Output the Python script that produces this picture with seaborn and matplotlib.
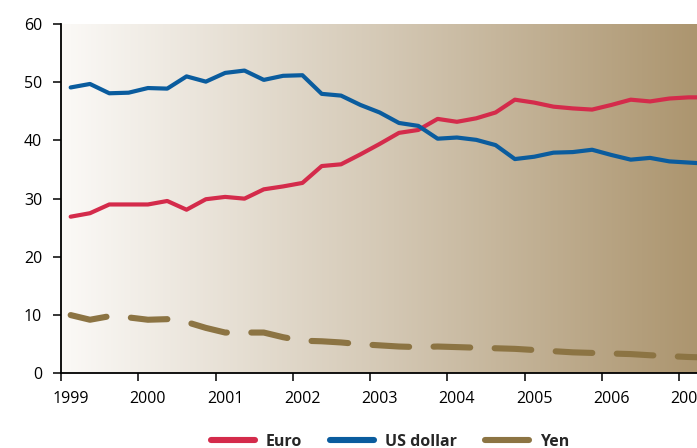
import numpy as np
import pandas as pd
import matplotlib
matplotlib.use("Agg")
import matplotlib.pyplot as plt
import matplotlib.transforms as mtransforms
from matplotlib.lines import Line2D
from matplotlib.colors import LinearSegmentedColormap
import seaborn as sns

# Quarterly shares (%) of currencies, 1999Q1 onwards
years = [1999, 2000, 2001, 2002, 2003, 2004, 2005, 2006, 2007]
quarters = [f"{y}Q{q}" for y in years for q in (1, 2, 3, 4)][:34]

euro = [26.9, 27.5, 29.0, 29.0, 29.0, 29.6, 28.1, 29.9, 30.3, 30.0,
        31.6, 32.1, 32.7, 35.6, 35.9, 37.6, 39.4, 41.3, 41.8, 43.7,
        43.2, 43.8, 44.8, 47.0, 46.5, 45.8, 45.5, 45.3, 46.1, 47.0,
        46.7, 47.2, 47.4, 47.4]
us_dollar = [49.1, 49.7, 48.1, 48.2, 49.0, 48.9, 51.0, 50.1, 51.6, 52.0,
             50.4, 51.1, 51.2, 48.0, 47.7, 46.1, 44.8, 43.0, 42.5, 40.3,
             40.5, 40.1, 39.2, 36.8, 37.2, 37.9, 38.0, 38.4, 37.5, 36.7,
             37.0, 36.4, 36.2, 36.0]
yen = [10.0, 9.2, 9.8, 9.6, 9.2, 9.3, 8.8, 7.8, 7.0, 7.0,
       7.0, 6.2, 5.6, 5.5, 5.3, 5.0, 4.8, 4.6, 4.5, 4.6,
       4.5, 4.4, 4.3, 4.2, 4.0, 3.8, 3.6, 3.5, 3.4, 3.3,
       3.1, 2.95, 2.8, 2.7]

series_names = ["Euro", "US dollar", "Yen"]
series_colors = ["#D42B4B", "#0A5C9E", "#8C7443"]
y_ticks = [0, 10, 20, 30, 40, 50, 60]

# Position each quarter at its middle on a decimal-year axis
t = [int(q[:4]) + (int(q[-1]) - 1) * 0.25 + 0.125 for q in quarters]
df = pd.DataFrame({"t": t, "Euro": euro, "US dollar": us_dollar, "Yen": yen})
long = df.melt(id_vars="t", var_name="currency", value_name="share")

sns.set_theme(style="ticks")
plt.rcParams["font.family"] = ["Open Sans", "DejaVu Sans"]

fig = plt.figure(figsize=(6.97, 4.48), dpi=100)
W, H = 697, 448
ax = fig.add_axes([61 / W, (H - 373.3) / H, (W - 61) / W, (373.3 - 24) / H])

x_left, x_right = 1999.0, 1999.0 + (697 - 60.7) / 77.29
ax.set_xlim(x_left, x_right)
ax.set_ylim(0, 60)

# Warm horizontal gradient behind the lines
grad = LinearSegmentedColormap.from_list(
    "sand", [(0.985, 0.978, 0.968), (0.835, 0.790, 0.715), (0.675, 0.585, 0.435)])
ax.imshow(np.linspace(0, 1, 512).reshape(1, -1), cmap=grad, aspect="auto",
          extent=(x_left, x_right, 0, 60), zorder=0, interpolation="bilinear")

widths = {"Euro": 3.0, "US dollar": 3.0, "Yen": 4.4}
for name, color in zip(series_names, series_colors):
    sub = long[long["currency"] == name]
    sns.lineplot(data=sub, x="t", y="share", color=color, linewidth=widths[name],
                 ax=ax, legend=False, sort=False, zorder=3,
                 solid_capstyle="round", dash_capstyle="round",
                 solid_joinstyle="round", dash_joinstyle="round")
    if name == "Yen":
        ax.lines[-1].set_dashes((6.0, 4.0))

ax.set_xlabel("")
ax.set_ylabel("")
ax.set_xticks(years)
ax.set_xticklabels([str(y) for y in years])
ax.set_yticks(y_ticks)
ax.set_yticklabels([str(v) for v in y_ticks])

for side in ("top", "right"):
    ax.spines[side].set_visible(False)
for side in ("left", "bottom"):
    ax.spines[side].set_color("black")
    ax.spines[side].set_linewidth(1.3)
    ax.spines[side].set_zorder(4)

ax.tick_params(axis="both", direction="out", length=5.5, width=1.1,
               colors="black", labelsize=11.5, pad=7)
ax.tick_params(axis="y", pad=8)

# Year labels sit slightly right of their tick marks
shift = mtransforms.ScaledTranslation(9.5 / 100, 0, fig.dpi_scale_trans)
for lbl in ax.get_xticklabels():
    lbl.set_transform(lbl.get_transform() + shift)

handles = [Line2D([0], [0], color=c, linewidth=4.4, solid_capstyle="round")
           for c in series_colors]
fig.legend(handles, series_names, loc="center", ncol=3, frameon=False,
           bbox_to_anchor=(390 / W, 1 - 442 / H),
           prop={"weight": "bold", "size": 11.5},
           handlelength=2.75, handletextpad=0.7, columnspacing=1.75)

fig.savefig("out.png", dpi=100)
